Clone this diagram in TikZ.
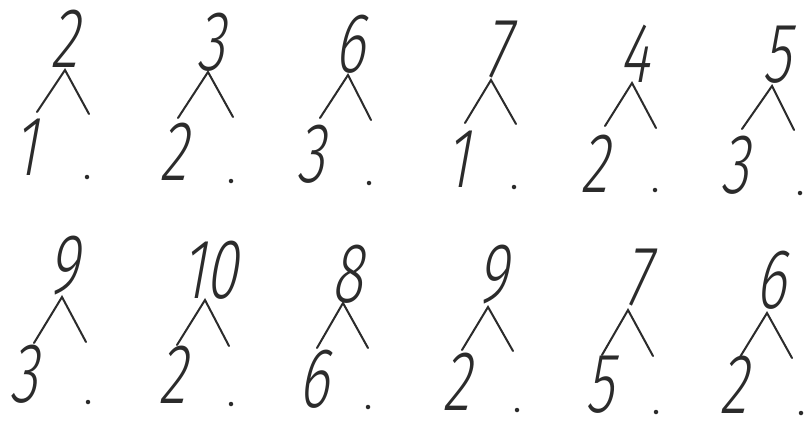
\documentclass[tikz,border=0pt]{standalone}
\usepackage{fontspec}
\newfontfamily\handfont{Fira Sans Light}[FakeSlant=0.18,FakeStretch=0.68]
\definecolor{ink}{HTML}{2B2B2B}
\tikzset{
  digit/.style={anchor=base,inner sep=0pt,text depth=0pt,text height=58pt,text=ink,font=\handfont\fontsize{85}{85}\selectfont},
  branch/.style={draw=ink,line width=2pt,line cap=round},
  speck/.style={circle,fill=ink,inner sep=0pt,minimum size=4.5pt}
}
\begin{document}
\begin{tikzpicture}[x=1pt,y=-1pt]
\useasboundingbox (0,0) rectangle (805,421);
\fill[white] (0,0) rectangle (805,421);
\foreach \k/\numA/\ux/\uy/\numB/\bx/\by/\apx/\apy/\lfx/\lfy/\rtx/\rty/\dtx/\dty in {
1/2/64/67/1/25/175/65/70/37/112/89/114/87/177,
2/3/211/70/2/173/180/208/72/178/118/233/117/231/181,
3/6/350/72/3/311/182/348/75/320/118/371/120/369/183,
4/7/497/77/1/457/187/491/80/465/123/516/124/514/187,
5/4/634/82/2/594/192/632/83/605/126/656/128/655/190,
6/5/777/82/3/735/193/772/86/742/129/794/130/800/193,
7/9/63/293/3/24/402/62/297/34/343/86/342/88/402,
8/10/209/298/2/172/403/205/300/177/345/229/346/231/404,
9/8/347/302/6/314/407/343/303/317/348/368/348/368/407,
10/9/492/302/2/456/410/488/307/462/350/513/351/517/410,
11/7/637/305/5/600/412/628/310/602/355/653/356/656/412,
12/6/771/308/2/733/413/767/313/740/357/792/358/801/413}{
  \node[digit] (whole\k) at (\ux,\uy) {\numA};
  \node[digit] (part\k) at (\bx,\by) {\numB};
  \coordinate (apex\k) at (\apx,\apy);
  \coordinate (left\k) at (\lfx,\lfy);
  \coordinate (right\k) at (\rtx,\rty);
  \node[speck] (dot\k) at (\dtx,\dty) {};
  \draw[branch] (left\k) -- (apex\k) -- (right\k);
}
\end{tikzpicture}
\end{document}
